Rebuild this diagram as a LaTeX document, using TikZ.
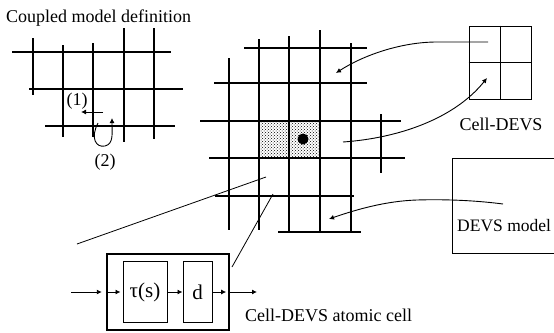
\documentclass[tikz,border=0pt]{standalone}
\usepackage{fontspec}
\setmainfont{Liberation Serif}
\usetikzlibrary{arrows.meta, patterns}

\begin{document}
\begin{tikzpicture}[x=1pt, y=-1pt, every node/.style={font=\fontsize{18}{20}\selectfont, inner sep=0pt},
      grid/.style={line width=1.3pt},
      box/.style={draw, line width=1pt, minimum height=61, font=\fontsize{21}{22}\selectfont},
      ar/.style={-{Latex[length=5pt, width=5pt]}, line width=0.9pt},
      link/.style={line width=0.8pt}]
    \useasboundingbox (0,0) rectangle (554,332);
    % coupled model
    \foreach \y/\a/\b in {52/12/171, 89/29/183, 126/45/175}
      \draw[grid] (\a,\y) -- (\b,\y);
    \foreach \x/\a/\b in {33/38/95, 63/45/137, 93/43/137, 124/28/142, 154/28/139}
      \draw[grid] (\x,\a) -- (\x,\b);
    \node[anchor=base west] (title) at (6,22) {Coupled model definition};
    \node (one) at (77,101) {(1)};
    \node (two) at (105,162) {(2)};
    \coordinate (oneA) at (103,112); \coordinate (oneB) at (81,112);
    \coordinate (twoA) at (98,123);  \coordinate (twoB) at (112,118);
    \draw[ar] (oneA) -- (oneB);
    \draw[ar] (twoA) .. controls (90,138) and (96,148) .. (105,146) .. controls (114,144) and (112,132) .. (twoB);
    % cell space
    \fill[pattern=crosshatch dots] (259,121) rectangle (320,158);
    \foreach \y/\a/\b in {48/244/367, 83/214/367, 121/200/401, 158/209/405, 196/215/354, 232/278/361}
      \draw[grid] (\a,\y) -- (\b,\y);
    \foreach \x/\a/\b in {229/58/230, 259/39/230, 289/36/233, 320/30/232, 351/43/232, 381/114/173}
      \draw[grid] (\x,\a) -- (\x,\b);
    \fill (303,139) circle (5.5pt);
    % cell-devs and devs
    \node[draw, line width=1pt, minimum width=62, minimum height=73] (cd) at (500,62.5) {};
    \draw[line width=1pt] (cd.north) -- (cd.south) (cd.west) -- (cd.east);
    \node (cdlabel) at (501,124) {Cell-DEVS};
    \draw[line width=1pt] (600,158) -| (452,253) -- (600,253);
    \node[anchor=base west, font=\fontsize{17.5}{20}\selectfont] (devslabel) at (457,231) {DEVS model};
    % atomic cell
    \node[draw, line width=2.4pt, minimum width=122, minimum height=76] (cell) at (168,292) {};
    \node[box, minimum width=44] (tau) at (145,292) {τ(s)};
    \node[box, minimum width=29] (delay) at (197.5,292) {d};
    \node[anchor=base west] (celllabel) at (245,321) {Cell-DEVS atomic cell};
    \coordinate (in) at (71,292); \coordinate (out) at (257,292);
    \draw[ar, shorten >=4pt] (in) -- (cell.west);
    \draw[ar, shorten >=2pt] (cell.west) -- (tau.west);
    \draw[ar] (tau.east) -- (delay.west);
    \draw[ar, shorten >=4pt] (delay.east) -- (cell.east);
    \draw[ar] (cell.east) -- (out);
    % links
    \coordinate (gA) at (336,73);  \coordinate (gB) at (343,142); \coordinate (gC) at (329,219);
    \coordinate (gD) at (266,177); \coordinate (gE) at (273,194);
    \coordinate (cdA) at (488,42); \coordinate (cdB) at (487,78);
    \coordinate (devsA) at (503,204); \coordinate (cellA) at (77,244); \coordinate (cellB) at (232,267);
    \draw[link, ar] (cdA) -- (437,42) .. controls (400,42) and (362,56) .. (gA);
    \draw[link, ar] (gB) .. controls (400,138) and (455,118) .. (cdB);
    \draw[link, ar] (devsA) .. controls (480,201) and (450,199) .. (417,200) .. controls (385,201) and (355,210) .. (gC);
    \draw[link] (cellA) -- (gD);
    \draw[link] (cellB) -- (gE);
  \end{tikzpicture}
\end{document}
